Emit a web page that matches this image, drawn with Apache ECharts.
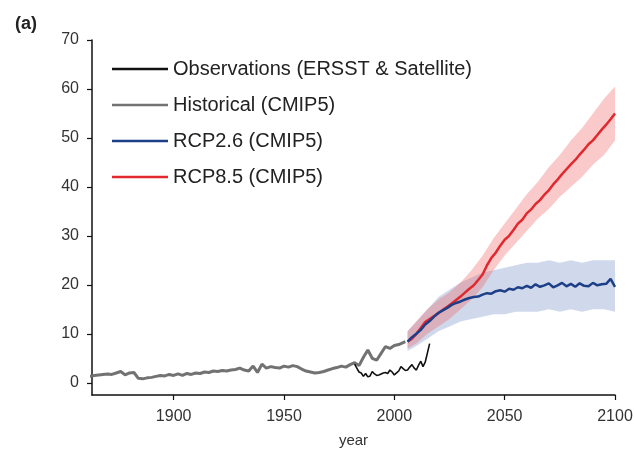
<!DOCTYPE html>
<html>
<head>
<meta charset="utf-8">
<script src="https://cdn.jsdelivr.net/npm/echarts@6/dist/echarts.min.js"></script>
<style>
html,body{margin:0;padding:0;background:#fff;}
#chart{width:634px;height:456px;}
</style>
</head>
<body>
<div id="chart"></div>
<script>
// ---- data ----
const histYears = [1862,1864,1866,1868,1870,1872,1874,1876,1878,1880,1882,1884,1886,1888,1890,1892,1894,1896,1898,1900,1902,1904,1906,1908,1910,1912,1914,1916,1918,1920,1922,1924,1926,1928,1930,1932,1934,1936,1938,1940,1942,1944,1946,1948,1950,1952,1954,1956,1958,1960,1962,1964,1966,1968,1970,1972,1974,1976,1978,1980,1982,1984,1986,1988,1990,1992,1994,1996,1998,2000,2002,2004,2005];
const histValues = [1.3,1.5,1.6,1.7,1.8,1.7,2.0,2.3,1.6,2.0,2.1,0.9,0.8,1.0,1.1,1.3,1.5,1.4,1.7,1.5,1.8,1.5,1.9,1.7,2.0,1.9,2.2,2.1,2.4,2.3,2.5,2.4,2.6,2.7,3.0,2.6,2.4,3.4,2.1,3.8,3.0,3.3,3.1,3.0,3.4,3.2,3.5,3.3,2.8,2.4,2.2,2.0,2.1,2.3,2.6,2.9,3.1,3.4,3.2,3.7,4.1,3.5,5.2,6.7,5.0,4.6,6.0,7.4,7.0,7.6,7.8,8.2,8.4];

const obsYears = [1982,1983,1984,1985,1986,1987,1988,1989,1990,1991,1992,1993,1994,1995,1996,1997,1998,1999,2000,2001,2002,2003,2004,2005,2006,2007,2008,2009,2010,2011,2012,2013,2014,2015,2016];
const obsValues = [3.8,3.0,2.2,2.0,1.3,1.9,1.2,1.4,2.3,1.8,1.5,1.6,1.8,2.0,2.1,1.9,2.6,2.2,1.6,2.0,2.4,3.3,2.9,2.5,2.6,3.2,3.7,3.0,2.6,3.6,4.4,3.3,4.2,6.1,8.0];

const rcpYears = [2006,2008,2010,2012,2014,2016,2018,2020,2022,2024,2026,2028,2030,2032,2034,2036,2038,2040,2042,2044,2046,2048,2050,2052,2054,2056,2058,2060,2062,2064,2066,2068,2070,2072,2074,2076,2078,2080,2082,2084,2086,2088,2090,2092,2094,2096,2098,2100];
const rcp26Values = [8.4,9.3,10.0,10.8,11.9,12.6,13.5,14.3,14.8,15.3,15.9,16.3,16.6,17.0,17.3,17.5,17.6,18.0,18.3,18.2,18.7,18.9,18.6,19.2,19.0,19.5,19.3,19.8,19.4,20.1,19.6,19.9,20.3,19.5,19.9,20.4,19.7,20.2,19.6,20.3,19.8,19.7,20.4,19.9,20.1,20.2,21.2,19.6];
const rcp85Values = [8.4,9.0,10.0,11.2,12.4,13.0,13.6,14.2,14.9,15.5,16.2,16.9,17.6,18.4,19.2,19.9,21.0,22.1,24.0,25.5,26.6,28.0,29.2,30.0,31.2,32.5,33.3,34.6,35.4,36.5,37.3,38.4,39.3,40.5,41.5,42.6,43.6,44.6,45.5,46.6,47.6,48.7,49.5,50.6,51.7,52.7,53.8,55.0];

const bandYears = [2006,2010,2015,2020,2025,2030,2035,2040,2045,2050,2055,2060,2065,2070,2075,2080,2085,2090,2095,2100];
const rcp26Lower = [6.5,7.5,9.0,10.5,11.5,12.5,13.0,13.5,14.0,14.0,14.5,14.5,14.5,15.0,14.5,15.0,14.5,15.0,15.0,14.5];
const rcp26Upper = [10.5,12.5,15.0,17.5,19.0,20.5,21.5,22.5,23.0,23.5,24.0,24.5,24.5,25.0,24.5,25.0,24.5,25.0,25.0,25.0];
const rcp85Lower = [7.0,8.0,10.0,11.5,13.0,15.0,17.0,19.5,23.0,26.0,28.5,31.0,33.5,35.5,38.0,40.0,42.0,44.5,46.5,49.5];
const rcp85Upper = [10.5,12.5,15.0,17.0,18.5,20.5,23.0,26.0,29.5,32.5,35.5,38.5,41.0,44.0,46.5,49.5,52.0,55.0,58.0,60.5];

const yTicks = [0,10,20,30,40,50,60,70];
const xTicks = [1900,1950,2000,2050,2100];
const names = ['Observations (ERSST & Satellite)','Historical (CMIP5)','RCP2.6 (CMIP5)','RCP8.5 (CMIP5)'];

// ---- build ----
const pairs = (xs, ys) => xs.map((x, i) => [x, ys[i]]);

function bandSeries(lo, hi, color) {
  return {
    type:'custom', silent:true, z:1,
    data: bandYears.map((x, i) => [x, lo[i], hi[i]]),
    encode:{x:0, y:[1,2]},
    renderItem: function (params, api) {
      if (params.dataIndex !== 0) return null;
      const pts = [];
      for (let i = 0; i < bandYears.length; i++) pts.push(api.coord([bandYears[i], hi[i]]));
      for (let i = bandYears.length - 1; i >= 0; i--) pts.push(api.coord([bandYears[i], lo[i]]));
      return {type:'polygon', shape:{points:pts}, style:{fill:color}};
    }
  };
}

const chart = echarts.init(document.getElementById('chart'), null, {renderer:'canvas'});
const FONT = 'Liberation Sans, Arial, sans-serif';
chart.setOption({
  animation:false,
  backgroundColor:'#fff',
  title:{text:'(a)', left:10, top:10, textStyle:{fontFamily:FONT, fontSize:18, fontWeight:'bold', color:'#222'}},
  grid:{left:92, right:19, top:40, bottom:61, outerBoundsMode:'none'},
  legend:{
    data:names, orient:'vertical', left:107, top:54, itemWidth:56, itemHeight:2.5, itemGap:16,
    icon:'rect',
    textStyle:{fontFamily:FONT, fontSize:20, color:'#222'},
    selectedMode:false
  },
  xAxis:{
    type:'value', min:1863, max:2100,
    name:'year', nameLocation:'middle', nameGap:38,
    nameTextStyle:{fontFamily:FONT, fontSize:15, color:'#333'},
    axisLine:{onZero:false, lineStyle:{color:'#111', width:1.5}},
    axisTick:{show:true, length:5, lineStyle:{color:'#111', width:1.2}, customValues:xTicks},
    axisLabel:{margin:14, customValues:xTicks, fontFamily:FONT, fontSize:16, color:'#333',
      formatter: v => String(v)},
    splitLine:{show:false}
  },
  yAxis:{
    type:'value', min:-2.5, max:70,
    axisLine:{show:true, onZero:false, lineStyle:{color:'#111', width:1.5}},
    axisTick:{show:true, length:5, lineStyle:{color:'#111', width:1.2}, customValues:yTicks},
    axisLabel:{margin:13, customValues:yTicks, fontFamily:FONT, fontSize:16, color:'#333',
      formatter: v => String(v)},
    splitLine:{show:false}
  },
  series:[
    bandSeries(rcp26Lower, rcp26Upper, 'rgba(125,150,200,0.36)'),
    bandSeries(rcp85Lower, rcp85Upper, 'rgba(238,90,90,0.32)'),
    {type:'line', name:names[1], data:pairs(histYears, histValues), symbol:'none',
     lineStyle:{color:'#727272', width:3}, itemStyle:{color:'#727272'}, z:3},
    {type:'line', name:names[0], data:pairs(obsYears, obsValues), symbol:'none',
     lineStyle:{color:'#111', width:1.6}, itemStyle:{color:'#111'}, z:4},
    {type:'line', name:names[3], data:pairs(rcpYears, rcp85Values), symbol:'none',
     lineStyle:{color:'#e0282e', width:2.5}, itemStyle:{color:'#e0282e'}, z:5},
    {type:'line', name:names[2], data:pairs(rcpYears, rcp26Values), symbol:'none',
     lineStyle:{color:'#1d3f87', width:2.5}, itemStyle:{color:'#1d3f87'}, z:5}
  ]
});
</script>
</body>
</html>
